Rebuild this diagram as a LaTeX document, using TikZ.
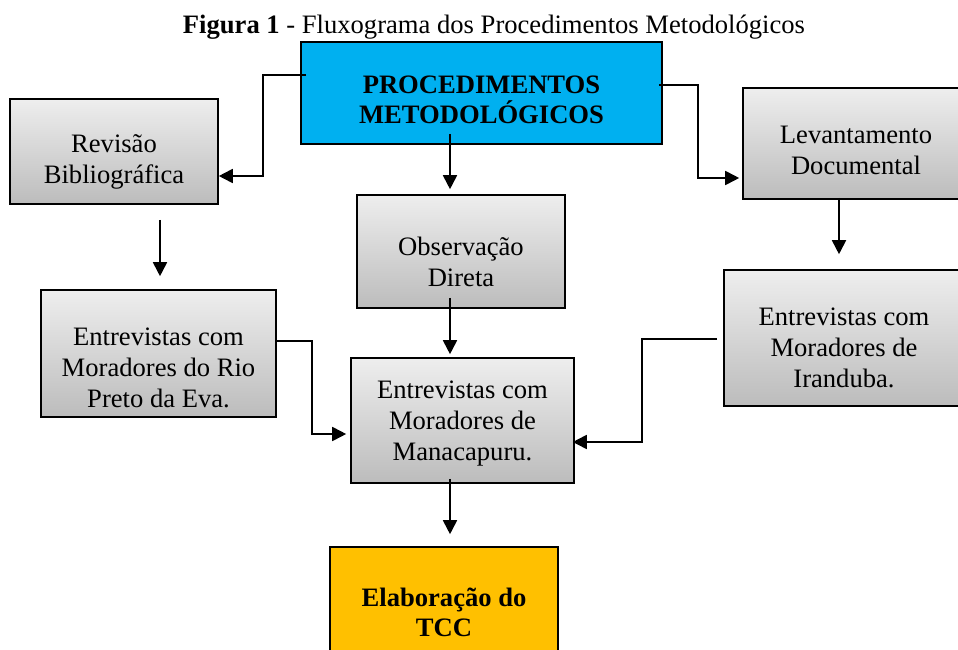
\documentclass[tikz,border=0pt]{standalone}
\usepackage{fontspec}
\setmainfont{Liberation Serif}
\usetikzlibrary{arrows.meta}
\definecolor{boxtop}{RGB}{238,238,238}
\definecolor{boxbot}{RGB}{188,188,188}
\definecolor{procblue}{RGB}{0,176,240}
\definecolor{tccgold}{RGB}{255,192,0}
\tikzset{
  gbox/.style={draw=black, line width=1.6pt, top color=boxtop, bottom color=boxbot, inner sep=0pt},
  flatbox/.style={draw=black, line width=1.6pt, inner sep=0pt},
  txt/.style={align=center, font=\fontsize{26.6}{31}\selectfont, inner sep=0pt},
  arr/.style={line width=1.8pt, -{Triangle[length=14pt,width=14pt]}}
}
\begin{document}
\begin{tikzpicture}[x=1pt,y=-1pt]
\useasboundingbox (0,0) rectangle (958,650);
\clip (0,0) rectangle (958,650);
% title
\node[txt] (title) at (494,27) {\textbf{Figura 1} - Fluxograma dos Procedimentos Metodológicos};
% boxes
\node[flatbox, fill=procblue, minimum width=361pt, minimum height=102pt] (proc) at (481.5,93) {};
\node[txt, font=\fontsize{26.6}{30}\selectfont\bfseries] (proct) at (481.5,100) {PROCEDIMENTOS\\METODOLÓGICOS};
\node[gbox, minimum width=208pt, minimum height=105pt] (rev) at (114,151.5) {};
\node[txt] (revt) at (114,162) {Revisão\\Bibliográfica};
\node[gbox, minimum width=226pt, minimum height=111pt] (lev) at (856,143.5) {};
\node[txt] (levt) at (856,150) {Levantamento\\Documental};
\node[gbox, minimum width=208pt, minimum height=113pt] (obs) at (461,251.5) {};
\node[txt] (obst) at (461,262) {Observação\\Direta};
\node[gbox, minimum width=235pt, minimum height=127pt] (rio) at (158.5,353.5) {};
\node[txt] (riot) at (158.5,368) {Entrevistas com\\Moradores do Rio\\Preto da Eva.};
\node[gbox, minimum width=223pt, minimum height=125pt] (man) at (462.5,420.5) {};
\node[txt] (mant) at (462.5,424) {Entrevistas com\\Moradores de\\Manacapuru.};
\node[gbox, minimum width=240pt, minimum height=136pt] (ira) at (844,338) {};
\node[txt] (irat) at (844,348) {Entrevistas com\\Moradores de\\Iranduba.};
\node[flatbox, fill=tccgold, minimum width=228pt, minimum height=150pt] (tcc) at (444,622) {};
\node[txt, font=\fontsize{26.6}{30}\selectfont\bfseries] (tcct) at (444,612) {Elaboração do\\TCC};
% bend coordinates
\coordinate (b1) at (263,75);
\coordinate (b2) at (263,176);
\coordinate (b3) at (698,85);
\coordinate (b4) at (698,178);
\coordinate (b5) at (312,341);
\coordinate (b6) at (312,434);
\coordinate (b7) at (642,339);
\coordinate (b8) at (642,442);
\coordinate (cx) at (450,0);
\coordinate (lx) at (160,0);
\coordinate (rx) at (839,0);
% connectors
\draw[arr, shorten <=-6pt] (b1 -| proc.west) -- (b1) -- (b2) -- (b2 -| rev.east);
\draw[arr, shorten <=-4pt, shorten >=3pt] (b3 -| proc.east) -- (b3) -- (b4) -- (b4 -| lev.west);
\draw[arr, shorten <=-11pt, shorten >=5pt] (proc.south -| cx) -- (obs.north -| cx);
\draw[arr, shorten <=15pt, shorten >=13pt] (rev.south -| lx) -- (rio.north -| lx);
\draw[arr, shorten <=-2pt, shorten >=15pt] (lev.south -| rx) -- (ira.north -| rx);
\draw[arr, shorten <=-11pt, shorten >=3pt] (obs.south -| cx) -- (man.north -| cx);
\draw[arr, shorten >=4pt] (b5 -| rio.east) -- (b5) -- (b6) -- (b6 -| man.west);
\draw[arr, shorten <=6pt, shorten >=-2pt] (b7 -| ira.west) -- (b7) -- (b8) -- (b8 -| man.east);
\draw[arr, shorten <=-5pt, shorten >=12pt] (man.south -| cx) -- (tcc.north -| cx);
\end{tikzpicture}
\end{document}
